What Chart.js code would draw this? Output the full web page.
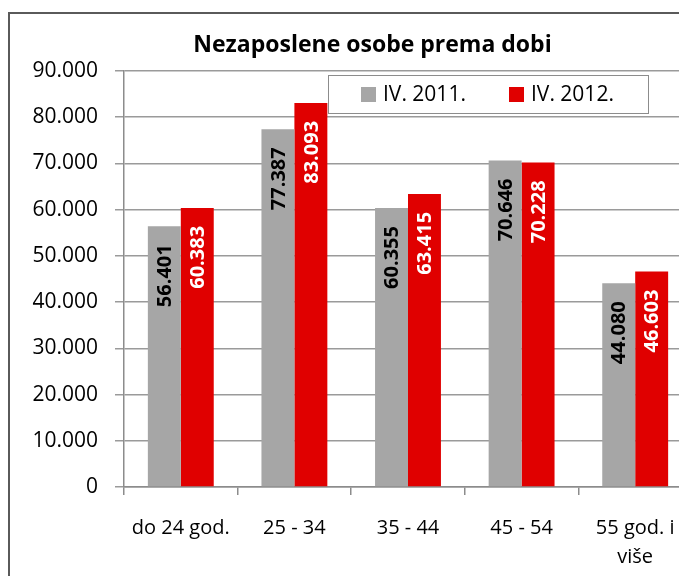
<!DOCTYPE html>
<html>
<head>
<meta charset="utf-8">
<script src="https://cdn.jsdelivr.net/npm/chart.js@4/dist/chart.umd.min.js"></script>
<style>
  html, body { margin: 0; padding: 0; background: #fff; overflow: hidden; width: 679px; height: 576px; }
  #frame { position: absolute; left: 8px; top: 12px; width: 725px; height: 600px; border: 2px solid #5a5a5a; background: #fff; }
  canvas { display: block; }
</style>
</head>
<body>
<div id="frame"><canvas id="c" width="725" height="600"></canvas></div>
<script>
const titleText = 'Nezaposlene osobe prema dobi';
const categories = ['do 24 god.', '25 - 34', '35 - 44', '45 - 54', ['55 god. i', 'više']];
const seriesNames = ['IV. 2011.', 'IV. 2012.'];
const values2011 = [56401, 77387, 60355, 70646, 44080];
const values2012 = [60383, 83093, 63415, 70228, 46603];
const yMin = 0, yMax = 90000, yStep = 10000;
const colors = ['#A6A6A6', '#E00000'];
const labelColors = ['#000000', '#FFFFFF'];

const FONT = "'Open Sans', 'Liberation Sans', sans-serif";
function fmt(v) {
  return Math.round(v).toString().replace(/\B(?=(\d{3})+(?!\d))/g, '.');
}

const chartTitle = {
  id: 'chartTitle',
  afterDraw(chart) {
    const ctx = chart.ctx;
    ctx.save();
    ctx.font = 'bold 23px ' + FONT;
    ctx.fillStyle = '#000';
    ctx.textAlign = 'center';
    ctx.textBaseline = 'middle';
    ctx.fillText(titleText, chart.width / 2, 31);
    ctx.restore();
  }
};

const valueLabels = {
  id: 'valueLabels',
  afterDatasetsDraw(chart) {
    const ctx = chart.ctx;
    chart.data.datasets.forEach((ds, di) => {
      const meta = chart.getDatasetMeta(di);
      meta.data.forEach((el, i) => {
        ctx.save();
        ctx.translate(el.x + 1, el.y + 18);
        ctx.rotate(-Math.PI / 2);
        ctx.font = 'bold 20px ' + FONT;
        ctx.fillStyle = labelColors[di];
        ctx.textAlign = 'right';
        ctx.textBaseline = 'middle';
        ctx.fillText(fmt(ds.data[i]), 0, 0);
        ctx.restore();
      });
    });
  }
};

const innerLegend = {
  id: 'innerLegend',
  afterDraw(chart) {
    const ctx = chart.ctx;
    const a = chart.chartArea;
    const x0 = a.left + 204, y0 = a.top + 4, w = 320, h = 38;
    ctx.save();
    ctx.fillStyle = '#fff';
    ctx.fillRect(x0, y0, w, h);
    ctx.strokeStyle = '#8c8c8c';
    ctx.lineWidth = 1;
    ctx.strokeRect(x0 + 0.5, y0 + 0.5, w, h);
    ctx.font = '21px ' + FONT;
    ctx.textBaseline = 'middle';
    ctx.textAlign = 'left';
    const items = [{x: x0 + 33}, {x: x0 + 181}];
    chart.data.datasets.forEach((ds, di) => {
      const ix = items[di].x;
      ctx.fillStyle = colors[di];
      ctx.fillRect(ix, y0 + 12, 15, 15);
      ctx.fillStyle = '#000';
      ctx.fillText(ds.label, ix + 22, y0 + 20);
    });
    ctx.restore();
  }
};

new Chart(document.getElementById('c'), {
  type: 'bar',
  data: {
    labels: categories,
    datasets: [
      { label: seriesNames[0], data: values2011, backgroundColor: colors[0], borderWidth: 0, categoryPercentage: 0.58, barPercentage: 1.0 },
      { label: seriesNames[1], data: values2012, backgroundColor: colors[1], borderWidth: 0, categoryPercentage: 0.58, barPercentage: 1.0 }
    ]
  },
  options: {
    responsive: false,
    animation: false,
    layout: { padding: { left: 0, right: 43, top: 57, bottom: 23 } },
    plugins: {
      legend: { display: false },
      tooltip: { enabled: false },
      title: { display: false }
    },
    scales: {
      x: {
        grid: { display: true, drawOnChartArea: false, drawTicks: true, tickLength: 8, color: '#8c8c8c', lineWidth: 1.5, offset: true },
        border: { display: true, color: '#8c8c8c', width: 1.5 },
        ticks: { color: '#000', font: { family: FONT, size: 20, lineHeight: 1.45 }, padding: 19, maxRotation: 0, autoSkip: false }
      },
      y: {
        min: yMin, max: yMax,
        afterFit(scale) { scale.width = 114; },
        grid: { color: '#9a9a9a', lineWidth: 1.5, drawTicks: true, tickLength: 9 },
        border: { display: true, color: '#8c8c8c', width: 1.5 },
        ticks: { stepSize: yStep, color: '#000', font: { family: FONT, size: 21 }, padding: 17, callback: (v) => fmt(v) }
      }
    }
  },
  plugins: [valueLabels, innerLegend, chartTitle]
});
</script>
</body>
</html>
